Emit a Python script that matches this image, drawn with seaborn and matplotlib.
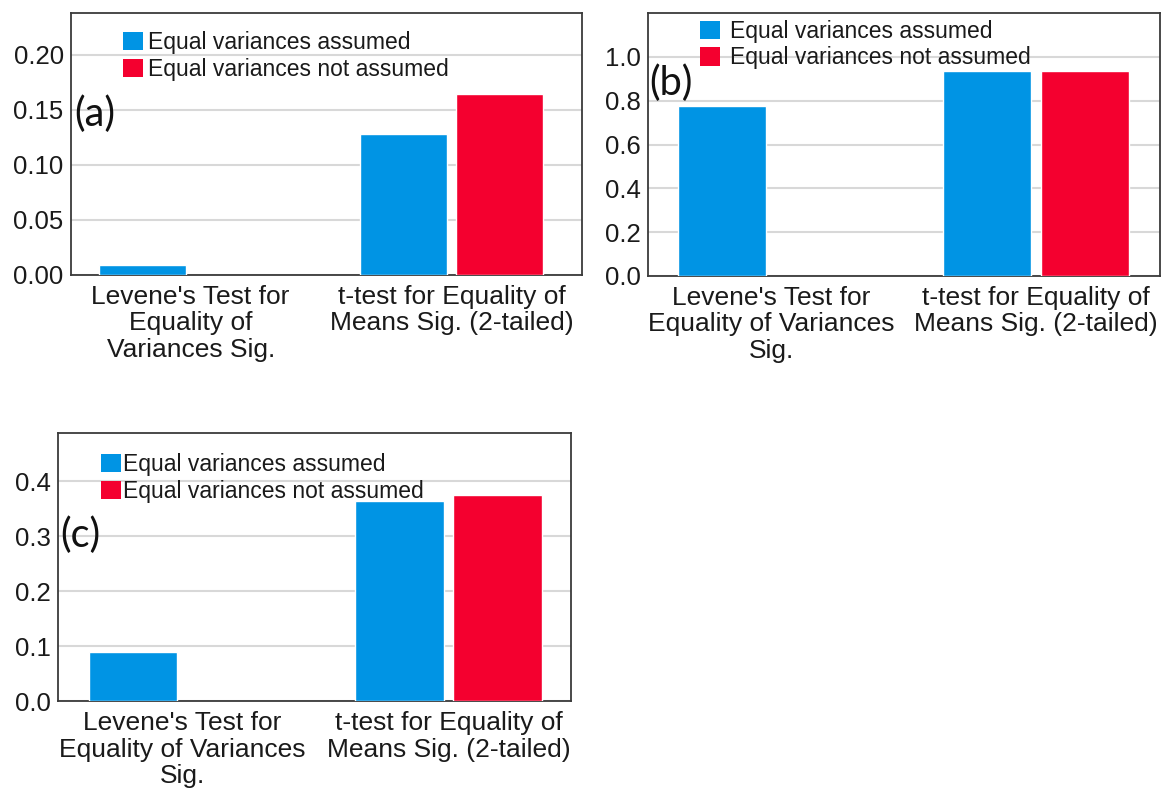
import matplotlib
matplotlib.use("Agg")
import matplotlib.pyplot as plt
from matplotlib.patches import Patch
from matplotlib.ticker import FormatStrFormatter
import pandas as pd
import seaborn as sns

sns.set_theme(style="white")
plt.rcParams["font.family"] = ["Liberation Sans", "DejaVu Sans"]

# Significance values per sample set
tests_a = ["Levene's Test for\nEquality of\nVariances Sig.", "t-test for Equality of\nMeans Sig. (2-tailed)"]
tests_bc = ["Levene's Test for\nEquality of Variances\nSig.", "t-test for Equality of\nMeans Sig. (2-tailed)"]
groups = ["Equal variances assumed", "Equal variances not assumed"]

levene_a = [0.009]
ttest_a = [0.128, 0.164]
levene_b = [0.775]
ttest_b = [0.935, 0.935]
levene_c = [0.090]
ttest_c = [0.365, 0.375]

ticks_a = [0.00, 0.05, 0.10, 0.15, 0.20]
ticks_b = [0.0, 0.2, 0.4, 0.6, 0.8, 1.0]
ticks_c = [0.0, 0.1, 0.2, 0.3, 0.4]

BLUE = "#0094E4"
RED = "#F4002F"
palette = {groups[0]: BLUE, groups[1]: RED}


def frame(tests, levene, ttest):
    rows = [(tests[0], groups[i], v) for i, v in enumerate(levene)]
    rows += [(tests[1], groups[i], v) for i, v in enumerate(ttest)]
    return pd.DataFrame(rows, columns=["test", "group", "sig"])


panels = [
    dict(df=frame(tests_a, levene_a, ttest_a), order=tests_a, rect=[0.0608, 0.6515, 0.4400, 0.3321],
         ylim=0.238, ticks=ticks_a, fmt="%.2f", xlim=(-0.46, 1.5), tag="(a)", tagpos=(0.008, 0.612),
         legpos=(0.102, 0.93), textpad=0.25),
    dict(df=frame(tests_bc, levene_b, ttest_b), order=tests_bc, rect=[0.5577, 0.6502, 0.4406, 0.3333],
         ylim=1.2, ticks=ticks_b, fmt="%.1f", xlim=(-0.465, 1.47), tag="(b)", tagpos=(0.003, 0.732),
         legpos=(0.1016, 0.975), textpad=0.45),
    dict(df=frame(tests_bc, levene_c, ttest_c), order=tests_bc, rect=[0.0499, 0.1115, 0.4415, 0.3397],
         ylim=0.488, ticks=ticks_c, fmt="%.1f", xlim=(-0.467, 1.46), tag="(c)", tagpos=(0.005, 0.617),
         legpos=(0.084, 0.925), textpad=0.1),
]

fig = plt.figure(figsize=(11.62, 7.89), dpi=100)
fig.patch.set_facecolor("white")

for p in panels:
    ax = fig.add_axes(p["rect"])
    sns.barplot(data=p["df"], x="test", y="sig", hue="group", order=p["order"], hue_order=groups,
                palette=palette, width=0.74, gap=0.1, errorbar=None, saturation=1,
                legend=False, ax=ax, zorder=3)
    ax.set_ylim(0, p["ylim"])
    ax.set_xlim(*p["xlim"])
    ax.set_yticks(p["ticks"])
    ax.yaxis.set_major_formatter(FormatStrFormatter(p["fmt"]))
    ax.grid(axis="y", color="#d8d8d8", linewidth=1.5, zorder=0)
    ax.set_axisbelow(True)
    ax.set_xlabel("")
    ax.set_ylabel("")
    for s in ax.spines.values():
        s.set_color("#3a3a3a")
        s.set_linewidth(1.3)
    ax.tick_params(axis="y", length=0, pad=5, labelsize=18.5, labelcolor="#1a1a1a")
    ax.tick_params(axis="x", length=0, pad=7.5, labelsize=19, labelcolor="#1a1a1a")
    for lab in ax.get_xticklabels():
        lab.set_linespacing(1.11)
        lab.set_verticalalignment("top")

    handles = [Patch(facecolor=palette[g], edgecolor="none") for g in groups]
    ax.legend(handles, groups, loc="upper left", bbox_to_anchor=p["legpos"], frameon=False,
              fontsize=16.5, handlelength=0.87, handleheight=0.85, handletextpad=p["textpad"],
              borderpad=0, borderaxespad=0, labelspacing=0.17, labelcolor="#1a1a1a")

    ax.text(p["tagpos"][0], p["tagpos"][1], p["tag"], transform=ax.transAxes, ha="left", va="center",
            fontsize=28.5, family=["Lato", "DejaVu Sans"], color="#111111", zorder=5)

fig.savefig("out.png", dpi=100, facecolor="white")
